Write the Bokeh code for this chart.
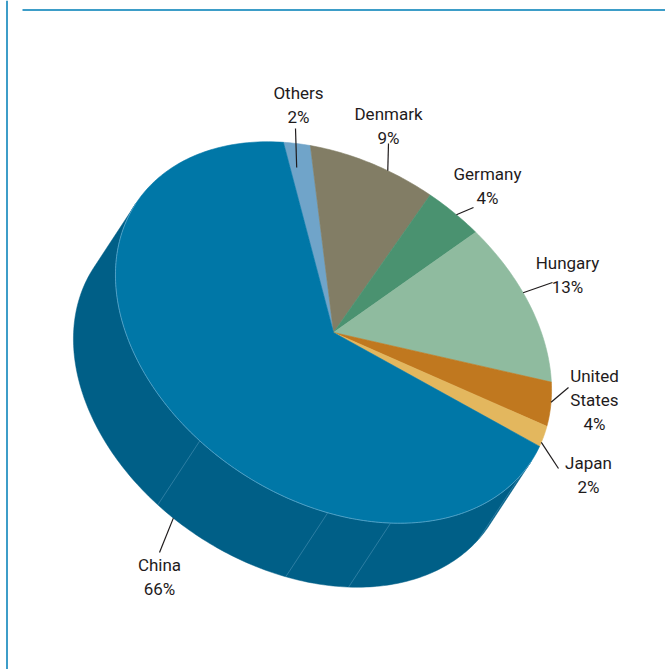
import numpy as np
from bokeh.plotting import figure
from bokeh.models import Range1d, ColumnDataSource
from bokeh.core.properties import value
from bokeh.embed import file_html
from bokeh.resources import INLINE

# ---------------- data ----------------
categories = ["Others", "Denmark", "Germany", "Hungary", "United States", "Japan", "China"]
shares = [2, 9, 4, 13, 4, 2, 66]
colors = ["#70a4c9", "#827d65", "#4a9270", "#8fbb9f", "#c0781f", "#e3b75e", "#0077a7"]

# ---------------- geometry / layout ----------------
W, H = 665, 669
CX, CY = 333.0, 332.0          # centre of top face
A, B = 236.0, 168.0            # semi axes of top face ellipse
TILT = np.radians(33.0)        # rotation of ellipse
DX, DY = -42.0, 64.0           # depth offset of the bottom face
T0 = -128.1                    # parametric start angle of the first slice
SIDE_COLOR = "#005f87"
TEXT_COLOR = "#1f1b1c"
FONT = "Roboto"
FONT_SIZE = "17px"
LINE_STEP = 24

# label anchor (centre x, first line y), leader outer end, leader angle on pie, on bottom face?
label_layout = {
    "Others":        dict(x=298, y=92,  lx=295, ly=128, t=-126.0, r=0.87, bottom=False),
    "Denmark":       dict(x=388, y=113, lx=388, ly=143, t=-100.4, r=1.0, bottom=False),
    "Germany":       dict(x=487, y=173, lx=473, ly=207, t=-80.5, r=1.0, bottom=False),
    "Hungary":       dict(x=567, y=262, lx=552, ly=282, t=-54.4, r=1.0, bottom=False),
    "United States": dict(x=594, y=375, lx=568, ly=387, t=-20.9, r=1.0, bottom=False),
    "Japan":         dict(x=588, y=462, lx=558, ly=468, t=-7.2, r=1.0, bottom=False),
    "China":         dict(x=159, y=564, lx=159, ly=552, t=98.0, r=1.0, bottom=True),
}
facet_angles = [6.0, 50.0, 66.7, 103.0]

ux, uy = np.cos(TILT), np.sin(TILT)
vx, vy = -np.sin(TILT), np.cos(TILT)


def ell(tdeg, r=1.0, ox=0.0, oy=0.0):
    t = np.radians(np.asarray(tdeg, dtype=float))
    x = CX + ox + r * (A * np.cos(t) * ux + B * np.sin(t) * vx)
    y = CY + oy + r * (A * np.cos(t) * uy + B * np.sin(t) * vy)
    return x, y


p = figure(width=W, height=H, x_range=Range1d(0, W), y_range=Range1d(H, 0),
           output_backend="svg", toolbar_location=None, min_border=0,
           margin=(0, 0, 0, 0))
p.axis.visible = False
p.grid.visible = False
p.outline_line_color = None
p.background_fill_color = "white"
p.border_fill_color = "white"

# frame
p.line([6.5, 6.5], [0, H], line_color="#3d9dc8", line_width=2)
p.line([22, W], [9.5, 9.5], line_color="#3d9dc8", line_width=2)

# side (visible part of the cylinder wall)
du = DX * ux + DY * uy
dv = DX * vx + DY * vy
ts = np.degrees(np.arctan(-B * du / (A * dv)))
tt = np.linspace(ts, ts + 180.0, 181)
tx, ty = ell(tt)
bx, by = ell(tt[::-1], ox=DX, oy=DY)
p.patch(np.concatenate([tx, bx]), np.concatenate([ty, by]),
        fill_color=SIDE_COLOR, line_color=SIDE_COLOR, line_width=0.5)

# faint facet lines on the side
for fa in facet_angles:
    x0, y0 = ell(fa)
    x1, y1 = ell(fa, ox=DX, oy=DY)
    p.line([float(x0), float(x1)], [float(y0), float(y1)],
           line_color="#4f95b8", line_width=0.8, line_alpha=0.7)

# top face slices
total = float(sum(shares))
xs, ys = [], []
start = T0
for s in shares:
    span = 360.0 * s / total
    arc = np.linspace(start, start + span, max(4, int(span) + 2))
    ax, ay = ell(arc)
    xs.append(np.concatenate([[CX], ax]).tolist())
    ys.append(np.concatenate([[CY], ay]).tolist())
    start += span
p.patches(xs, ys, fill_color=colors, line_color=colors, line_width=0.6)

# highlight along the front rim
hx, hy = ell(tt)
p.line(hx, hy, line_color="#5fa9cc", line_width=1, line_alpha=0.8)

# leader lines and labels
txt_x, txt_y, txt = [], [], []
for name, val in zip(categories, shares):
    L = label_layout[name]
    if L["bottom"]:
        ex, ey = ell(L["t"], L["r"], DX, DY)
    else:
        ex, ey = ell(L["t"], L["r"])
    p.line([L["lx"], float(ex)], [L["ly"], float(ey)], line_color=TEXT_COLOR, line_width=1.2)
    lines = name.split(" ") + [f"{val}%"]
    for i, ln in enumerate(lines):
        txt_x.append(L["x"])
        txt_y.append(L["y"] + i * LINE_STEP)
        txt.append(ln)

src = ColumnDataSource(dict(x=txt_x, y=txt_y, text=txt))
p.text(x="x", y="y", text="text", source=src, text_align="center", text_baseline="middle",
       text_font=value(FONT), text_font_size=FONT_SIZE, text_color=TEXT_COLOR)

open("out.html", "w").write(file_html(p, INLINE))
